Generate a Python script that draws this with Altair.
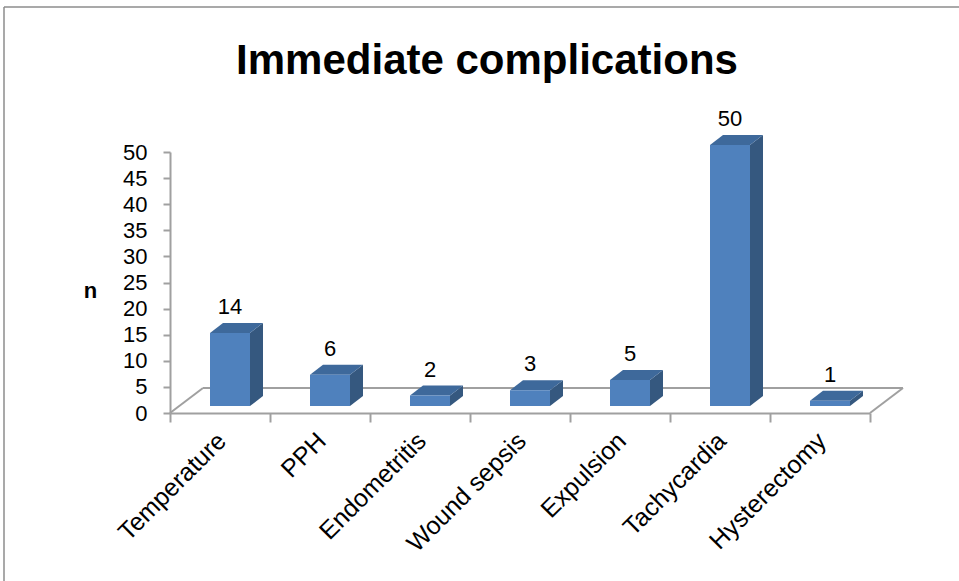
import altair as alt
import pandas as pd

# ---- data ----
categories = ["Temperature", "PPH", "Endometritis", "Wound sepsis",
              "Expulsion", "Tachycardia", "Hysterectomy"]
values = [14, 6, 2, 3, 5, 50, 1]
y_ticks = [0, 5, 10, 15, 20, 25, 30, 35, 40, 45, 50]

# ---- geometry / style constants (pixels converted to data units) ----
W, H = 700, 261
XMAX, YMAX = 7, 50
ux = XMAX / W          # data units per px (x)
uy = YMAX / H          # data units per px (y)
BASE = 7 * uy          # bars stand a little behind the front floor edge
DX, DY = 13 * ux, 10 * uy   # depth of the 3-D bars
LEFT, BW = 0.40, 0.40       # bar front face position inside each band
FLOOR_DX, FLOOR_DY = 33 * ux, 25 * uy

FONT = "Liberation Sans"
FRONT, SIDE, TOP = "#4F81BD", "#35587F", "#3E699B"
GRID = "#A0A0A0"

xs = alt.Scale(domain=[0, XMAX], nice=False, zero=False)
ys = alt.Scale(domain=[0, YMAX], nice=False, zero=False)

front = pd.DataFrame({
    "cat": categories,
    "x0": [i + LEFT for i in range(len(values))],
    "x1": [i + LEFT + BW for i in range(len(values))],
    "y0": [BASE] * len(values),
    "y1": [BASE + v for v in values],
    "v": values,
    "xc": [i + LEFT + BW / 2 for i in range(len(values))],
    "yt": [BASE + v + DY for v in values],
})

side_rows, top_rows = [], []
for i, (c, v) in enumerate(zip(categories, values)):
    xr = i + LEFT + BW
    side_rows.append({"cat": c, "x": xr, "y": BASE + v, "y2": BASE})
    side_rows.append({"cat": c, "x": xr + DX, "y": BASE + v + DY, "y2": BASE + DY})
    top_rows.append({"cat": c, "y": BASE + v, "x": i + LEFT, "x2": xr})
    top_rows.append({"cat": c, "y": BASE + v + DY, "x": i + LEFT + DX, "x2": xr + DX})
side = pd.DataFrame(side_rows)
top = pd.DataFrame(top_rows)

floor = pd.DataFrame([
    {"seg": "back", "o": 0, "x": FLOOR_DX, "y": FLOOR_DY},
    {"seg": "back", "o": 1, "x": XMAX + FLOOR_DX, "y": FLOOR_DY},
    {"seg": "left", "o": 0, "x": 0, "y": 0},
    {"seg": "left", "o": 1, "x": FLOOR_DX, "y": FLOOR_DY},
    {"seg": "right", "o": 0, "x": XMAX, "y": 0},
    {"seg": "right", "o": 1, "x": XMAX + FLOOR_DX, "y": FLOOR_DY},
])

label_expr = "[" + ",".join("'" + c + "'" for c in categories) + "][floor(datum.value)]"
x_axis_values = [k / 2 for k in range(0, 2 * XMAX + 1)]

x_axis = alt.Axis(
    values=x_axis_values,
    labelExpr="datum.value % 1 == 0 ? '' : " + label_expr,
    tickOpacity={"condition": {"test": "datum.value % 1 != 0", "value": 0}, "value": 1},
    labelAngle=-45, labelAlign="right", labelBaseline="top",
    labelFont=FONT, labelFontSize=25, labelColor="black",
    labelOverlap=False, labelFlush=False, labelOffset=-7, labelPadding=6,
    tickSize=9, tickColor=GRID, tickWidth=2,
    domainColor=GRID, domainWidth=2, grid=False, title=None,
)
y_axis = alt.Axis(
    values=y_ticks, labelFont=FONT, labelFontSize=22, labelColor="black",
    labelPadding=16, tickSize=7, tickColor=GRID, tickWidth=2,
    domainColor=GRID, domainWidth=2, grid=False,
    title="n", titleAngle=0, titleFont=FONT, titleFontSize=22,
    titleFontWeight="bold", titleColor="black", titleX=-80, titleY=138,
    titleAlign="center", titleBaseline="middle",
)


def X(field):
    return alt.X(field, scale=xs, axis=x_axis)


def Y(field):
    return alt.Y(field, scale=ys, axis=y_axis)


floor_layer = alt.Chart(floor).mark_line(color=GRID, strokeWidth=2).encode(
    x=X("x:Q"), y=Y("y:Q"), detail="seg:N", order="o:Q",
)

front_layer = alt.Chart(front).mark_rect(color=FRONT).encode(
    x=X("x0:Q"), x2="x1:Q", y=Y("y0:Q"), y2="y1:Q",
)

side_layer = alt.Chart(side).mark_area(color=SIDE, orient="vertical").encode(
    x=X("x:Q"), y=Y("y:Q"), y2="y2:Q", detail="cat:N",
)

top_layer = alt.Chart(top).mark_area(color=TOP, orient="horizontal").encode(
    y=Y("y:Q"), x=X("x:Q"), x2="x2:Q", detail="cat:N",
)

text_layer = alt.Chart(front).mark_text(
    font=FONT, fontSize=22, color="black", baseline="alphabetic", dy=-9,
).encode(
    x=X("xc:Q"), y=Y("yt:Q"), text="v:Q",
)

frame_df = pd.DataFrame({"k": [0]})
frame_top = alt.Chart(frame_df).mark_rule(color="#8C8C8C", strokeWidth=1.5).encode(
    x=alt.value(-166), x2=alt.value(800), y=alt.value(-145))
frame_left = alt.Chart(frame_df).mark_rule(color="#8C8C8C", strokeWidth=1.5).encode(
    x=alt.value(-166), y=alt.value(-145), y2=alt.value(440))

chart = alt.layer(
    floor_layer, side_layer, top_layer, front_layer, text_layer,
    frame_top, frame_left,
).properties(
    width=W, height=H,
    title=alt.TitleParams(
        "Immediate complications", font=FONT, fontSize=42, fontWeight="bold",
        color="black", anchor="middle", dx=-33, dy=110, offset=0,
        baseline="alphabetic",
    ),
    padding={"left": 170, "top": 152, "right": 89, "bottom": 168},
    autosize=alt.AutoSizeParams(type="none"),
    background="white",
).configure_view(stroke=None)

chart.save("out.html", embed_options={"renderer": "svg", "actions": False})
